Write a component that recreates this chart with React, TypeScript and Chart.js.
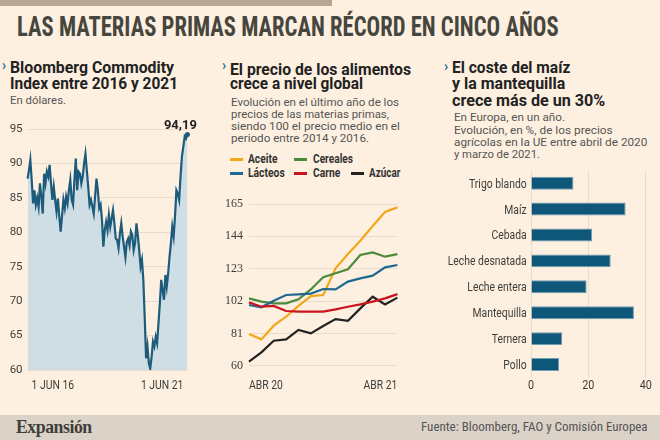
import React, { useEffect, useLayoutEffect, useRef, useState } from 'react';
import { Chart, registerables } from 'chart.js';

Chart.register(...registerables);

const SANS = "Roboto, 'Liberation Sans', sans-serif";
const COND = "'Roboto Condensed', 'Liberation Sans Narrow', 'DejaVu Sans Condensed', Roboto, sans-serif";
const SERIF = "'Liberation Serif', 'DejaVu Serif', serif";

// ---------- Panel 1: Bloomberg Commodity Index ----------
const bcomTickLabels = ['1 JUN 16', '1 JUN 21'];
const bcomLastLabel = '94,19';
const bcomValues = [
  87.8, 89, 90.5, 87.6, 84.2, 86.1, 84, 85, 83.7, 87.1, 85.2, 82.7, 88.5, 87.1, 88.8, 88.1,
  89.8, 87.1, 84.7, 86.6, 84.7, 83, 84.9, 82.3, 80.1, 82.3, 84.7, 83.5, 85.2, 84.2, 86.1, 87.6,
  84.7, 84, 87.6, 90.7, 86.1, 88.8, 88.5, 87.1, 88.1, 90, 91.4, 89, 86.6, 84, 84.7, 83.7,
  82.7, 85.2, 87.8, 86.1, 83.5, 84, 81.8, 77.9, 80.3, 81.5, 80.3, 82.5, 80.8, 82, 83.2, 81.3,
  79.1, 78.9, 77.7, 79.8, 81.3, 79.4, 77.9, 76.4, 78.6, 79.1, 78.1, 80.1, 79.6, 77.4, 78.4, 81.3,
  79.6, 77.4, 75, 76, 73.1, 67.7, 61.7, 63.4, 61, 60.2, 61.9, 64.1, 63.4, 64.8, 63.9, 66.8,
  69.7, 73.1, 71.6, 70.2, 73.8, 72.1, 74, 76.4, 78.4, 80.8, 79.4, 82.3, 86.1, 85.6, 84.7, 88.1,
  91, 92.4, 93.9, 93.6, 94.19,
];
const bcomCategories = bcomValues.map((_, i) => String(i));

// ---------- Panel 2: FAO food price indices ----------
const foodMonths = ['ABR 20', 'MAY 20', 'JUN 20', 'JUL 20', 'AGO 20', 'SEP 20', 'OCT 20', 'NOV 20', 'DIC 20', 'ENE 21', 'FEB 21', 'MAR 21', 'ABR 21'];
const aceite = [80.6, 77.1, 86, 91.8, 98.8, 105.2, 105.9, 123.2, 132.5, 141.2, 150.7, 159.8, 162.8];
const cereales = [103.7, 101.6, 100.5, 100.5, 103.1, 109.5, 117.4, 120, 122.6, 131.9, 133.6, 130.8, 132.5];
const lacteos = [99.4, 97.9, 102.2, 105.9, 106.3, 106.8, 109.8, 109.6, 114.6, 116.7, 118.5, 123.9, 125.4];
const carne = [101.1, 98.3, 98.8, 95.5, 95.1, 95.1, 95.1, 96.6, 98.3, 99.8, 101.6, 103.7, 106.5];
const azucar = [62.6, 68.7, 76.2, 77.1, 83.2, 81, 85.8, 90.3, 89.2, 97.2, 104.8, 99.8, 104.2];
const foodSeriesNames = ['Aceite', 'Cereales', 'Lácteos', 'Carne', 'Azúcar'];

// ---------- Panel 3: EU agricultural prices ----------
const barLabels = ['Trigo blando', 'Maíz', 'Cebada', 'Leche desnatada', 'Leche entera', 'Mantequilla', 'Ternera', 'Pollo'];
const barValues = [14.8, 33, 21.3, 27.8, 19.4, 35.9, 10.9, 9.8];

const C = {
  bg: '#fdf0e0',
  grid: '#e8ddcd',
  tick: '#3d3d3a',
  aceite: '#f3a71c',
  cereales: '#4c8a3c',
  lacteos: '#1f6892',
  carne: '#c8151f',
  azucar: '#222222',
  bar: '#0f5778',
  line1: '#1c5b7b',
  fill1: '#cfdee4',
};
const HIDDEN = 'rgba(0,0,0,0)';
const SX = 0.83;

function T({ x, y, size, text, w, weight = 400, color = '#333', family = SANS, ls = 0 }: any) {
  const ref = useRef<HTMLSpanElement>(null);
  const [tick, setTick] = useState(0);
  useEffect(() => {
    (document as any).fonts?.ready?.then(() => setTick((t) => t + 1));
  }, []);
  useLayoutEffect(() => {
    const el = ref.current;
    if (!el || !w) return;
    el.style.transform = 'none';
    const nat = el.getBoundingClientRect().width;
    if (nat > 0) el.style.transform = `scaleX(${w / nat})`;
  }, [text, w, tick]);
  return (
    <span
      ref={ref}
      style={{
        position: 'absolute',
        left: x,
        top: y - size * 0.845,
        fontSize: size,
        lineHeight: `${size}px`,
        whiteSpace: 'nowrap',
        transformOrigin: '0 0',
        fontWeight: weight,
        color,
        fontFamily: family,
        letterSpacing: ls,
      }}
    >
      {text}
    </span>
  );
}

function ChartBox({ left, top, width, height, make }: any) {
  const ref = useRef<HTMLCanvasElement>(null);
  useEffect(() => {
    const chart = new Chart(ref.current as HTMLCanvasElement, make());
    return () => chart.destroy();
  }, []);
  return (
    <canvas
      ref={ref}
      width={width}
      height={height}
      style={{ position: 'absolute', left, top, width, height }}
    />
  );
}

// Draws an axis's own tick labels horizontally condensed (no condensed font installed).
const condLabelsPlugin = {
  id: 'condLabels',
  afterDraw(chart: any, _args: any, opts: any) {
    const ctx = chart.ctx;
    for (const spec of opts.axes || []) {
      const scale = chart.scales[spec.id];
      const ticks = scale.ticks;
      ctx.save();
      ctx.font = `${spec.weight || 400} ${spec.size}px ${spec.family || SANS}`;
      ctx.fillStyle = spec.color || C.tick;
      ctx.textBaseline = 'alphabetic';
      ticks.forEach((t: any, i: number) => {
        const label = String(t.label ?? '');
        if (!label) return;
        const p = scale.getPixelForTick(i);
        let x: number;
        let y: number;
        let align: CanvasTextAlign = 'center';
        if (scale.axis === 'x') {
          y = scale.top + spec.offset + spec.size * 0.36;
          x = p;
          if (spec.inner) {
            if (i === 0) { align = 'left'; x += spec.inset || 0; }
            else if (i === ticks.length - 1) { align = 'right'; x -= spec.inset || 0; }
          }
        } else {
          x = scale.right - spec.offset;
          y = p + spec.size * 0.36;
          align = 'right';
        }
        ctx.save();
        ctx.translate(x, y);
        ctx.scale(spec.sx ?? SX, 1);
        ctx.textAlign = align;
        ctx.fillText(label, 0, 0);
        ctx.restore();
      });
      ctx.restore();
    }
  },
};

const lastLabelPlugin = {
  id: 'lastLabel',
  afterDatasetsDraw(chart: any) {
    const meta = chart.getDatasetMeta(0);
    const pt = meta.data[meta.data.length - 1];
    const ctx = chart.ctx;
    ctx.save();
    ctx.font = `bold 13px ${SANS}`;
    ctx.fillStyle = '#222';
    ctx.textAlign = 'center';
    ctx.textBaseline = 'alphabetic';
    ctx.fillText(bcomLastLabel, pt.x - 7, pt.y - 6);
    ctx.restore();
  },
};

function makeBcom(): any {
  const n = bcomValues.length;
  return {
    type: 'line',
    data: {
      labels: bcomCategories,
      datasets: [
        {
          data: bcomValues,
          borderColor: C.line1,
          borderWidth: 2.2,
          backgroundColor: C.fill1,
          fill: 'start',
          tension: 0,
          pointRadius: (ctx: any) => (ctx.dataIndex === n - 1 ? 2.5 : 0),
          pointBackgroundColor: C.line1,
          pointBorderWidth: 0,
        },
      ],
    },
    options: {
      responsive: false,
      animation: false,
      layout: { padding: { left: 0, right: 25, top: 19, bottom: 4 } },
      plugins: {
        legend: { display: false },
        tooltip: { enabled: false },
        condLabels: { axes: [{ id: 'x', size: 12.5, offset: 14.5, inner: true, inset: 4 }] },
      },
      scales: {
        x: {
          grid: { display: false },
          border: { display: false },
          ticks: {
            autoSkip: false,
            maxRotation: 0,
            color: HIDDEN,
            font: { family: SANS, size: 12 },
            callback: (_v: any, i: number) => (i === 0 ? bcomTickLabels[0] : bcomTickLabels[1]),
          },
          afterBuildTicks: (axis: any) => {
            const t = axis.ticks;
            axis.ticks = [t[0], t[t.length - 1]];
          },
          afterFit: (axis: any) => {
            axis.height = 26;
          },
        },
        y: {
          min: 60,
          max: 95,
          ticks: { stepSize: 5, padding: 5, color: C.tick, font: { family: SANS, size: 11.5 } },
          grid: { color: C.grid, drawTicks: false, lineWidth: 1 },
          border: { display: false },
          afterFit: (axis: any) => {
            axis.width = 26;
          },
        },
      },
    },
    plugins: [lastLabelPlugin, condLabelsPlugin],
  };
}

function makeFood(): any {
  const ds = (label: string, data: number[], color: string) => ({
    label,
    data,
    borderColor: color,
    backgroundColor: color,
    borderWidth: 2.2,
    pointRadius: 0,
    tension: 0,
    fill: false,
  });
  return {
    type: 'line',
    data: {
      labels: foodMonths,
      datasets: [
        ds(foodSeriesNames[3], carne, C.carne),
        ds(foodSeriesNames[2], lacteos, C.lacteos),
        ds(foodSeriesNames[1], cereales, C.cereales),
        ds(foodSeriesNames[0], aceite, C.aceite),
        ds(foodSeriesNames[4], azucar, C.azucar),
      ],
    },
    options: {
      responsive: false,
      animation: false,
      layout: { padding: { left: 0, right: 11, top: 14, bottom: 4 } },
      plugins: {
        legend: { display: false },
        tooltip: { enabled: false },
        condLabels: { axes: [{ id: 'x', size: 12.5, offset: 18.3, inner: true, inset: 0 }] },
      },
      scales: {
        x: {
          grid: { display: false },
          border: { display: false },
          ticks: {
            autoSkip: false,
            maxRotation: 0,
            color: HIDDEN,
            font: { family: SANS, size: 12 },
          },
          afterBuildTicks: (axis: any) => {
            const t = axis.ticks;
            axis.ticks = [t[0], t[t.length - 1]];
          },
          afterFit: (axis: any) => {
            axis.height = 30.3;
          },
        },
        y: {
          min: 60,
          max: 165,
          ticks: { stepSize: 21, padding: 6, color: C.tick, font: { family: SERIF, size: 12 } },
          grid: { color: C.grid, drawTicks: false },
          border: { display: false },
          afterFit: (axis: any) => {
            axis.width = 34;
          },
        },
      },
    },
    plugins: [condLabelsPlugin],
  };
}

function makeBars(): any {
  return {
    type: 'bar',
    data: {
      labels: barLabels,
      datasets: [
        {
          data: barValues,
          backgroundColor: C.bar,
          borderColor: '#6f9db3',
          borderWidth: 1,
          barPercentage: 0.5,
          categoryPercentage: 1,
        },
      ],
    },
    options: {
      indexAxis: 'y',
      responsive: false,
      animation: false,
      layout: { padding: { left: 0, right: 14.3, top: 4.5, bottom: 2.5 } },
      plugins: {
        legend: { display: false },
        tooltip: { enabled: false },
        condLabels: {
          axes: [
            { id: 'x', size: 13, offset: 7.2 },
            { id: 'y', size: 12.5, offset: 4.3 },
          ],
        },
      },
      scales: {
        x: {
          min: 0,
          max: 40,
          ticks: { stepSize: 20, color: HIDDEN, font: { family: SANS, size: 12 }, maxRotation: 0 },
          grid: { color: C.grid, drawTicks: false },
          border: { display: false },
          afterFit: (axis: any) => {
            axis.height = 20;
          },
        },
        y: {
          grid: { display: false },
          border: { display: false },
          ticks: { color: HIDDEN, font: { family: SANS, size: 12 }, autoSkip: false },
          afterFit: (axis: any) => {
            axis.width = 101;
          },
        },
      },
    },
    plugins: [condLabelsPlugin],
  };
}

function Swatch({ x, y, color }: any) {
  return <div style={{ position: 'absolute', left: x, top: y - 1, width: 13, height: 2.4, background: color }} />;
}

export default function App() {
  const chev = { size: 14, weight: 700, color: '#1f6e93' };
  return (
    <div
      style={{
        position: 'absolute',
        left: 0,
        top: 0,
        width: 660,
        height: 440,
        background: C.bg,
        overflow: 'hidden',
        fontFamily: SANS,
      }}
    >
      <div style={{ position: 'absolute', left: 0, top: 0, width: 332, height: 6, background: '#b7a694' }} />
      <T x={16.7} y={37.3} size={27} weight={700} color="#46463f" family={COND} w={541.6}
        text="LAS MATERIAS PRIMAS MARCAN RÉCORD EN CINCO AÑOS" />

      {/* Panel 1 */}
      <T x={2} y={70} {...chev} text="›" />
      <T x={10} y={74.3} size={16.5} weight={700} color="#222" w={164} text="Bloomberg Commodity" />
      <T x={10} y={89.5} size={16.5} weight={700} color="#222" w={168} text="Index entre 2016 y 2021" />
      <T x={10} y={105} size={11.5} color="#555" w={56} text="En dólares." />
      <ChartBox left={0} top={110} width={215} height={290} make={makeBcom} />

      {/* Panel 2 */}
      <T x={222} y={70} {...chev} text="›" />
      <T x={230} y={75.5} size={16.5} weight={700} color="#222" w={181} text="El precio de los alimentos" />
      <T x={230} y={90.3} size={16.5} weight={700} color="#222" w={133} text="crece a nivel global" />
      <T x={231} y={106.7} size={11.5} color="#555" w={168} text="Evolución en el último año de los" />
      <T x={231} y={119} size={11.5} color="#555" w={158} text="precios de las materias primas," />
      <T x={231} y={131} size={11.5} color="#555" w={169} text="siendo 100 el precio medio en el" />
      <T x={231} y={143} size={11.5} color="#555" w={138} text="periodo entre 2014 y 2016." />

      <Swatch x={230} y={159.3} color={C.aceite} />
      <T x={248.3} y={163.3} size={12} weight={700} color="#333" w={29.4} text={foodSeriesNames[0]} />
      <Swatch x={294} y={159.3} color={C.cereales} />
      <T x={312.7} y={163.3} size={12} weight={700} color="#333" w={40} text={foodSeriesNames[1]} />
      <Swatch x={230} y={173.3} color={C.lacteos} />
      <T x={248.3} y={177} size={12} weight={700} color="#333" w={36.7} text={foodSeriesNames[2]} />
      <Swatch x={294} y={173.3} color={C.carne} />
      <T x={312.7} y={177} size={12} weight={700} color="#333" w={27.3} text={foodSeriesNames[3]} />
      <Swatch x={350.5} y={173.3} color={C.azucar} />
      <T x={369.3} y={177} size={12} weight={700} color="#333" w={31.4} text={foodSeriesNames[4]} />
      <ChartBox left={215} top={190} width={205} height={210} make={makeFood} />

      {/* Panel 3 */}
      <T x={444} y={71} {...chev} text="›" />
      <T x={451.7} y={73.5} size={16.5} weight={700} color="#222" w={118.3} text="El coste del maíz" />
      <T x={451.7} y={89.8} size={16.5} weight={700} color="#222" w={113.3} text="y la mantequilla" />
      <T x={451.7} y={106.5} size={16.5} weight={700} color="#222" w={153.3} text="crece más de un 30%" />
      <T x={454} y={122} size={11.5} color="#555" w={111} text="En Europa, en un año." />
      <T x={454} y={134.3} size={11.5} color="#555" w={158.7} text="Evolución, en %, de los precios" />
      <T x={454} y={146.5} size={11.5} color="#555" w={193.3} text="agrícolas en la UE entre abril de 2020" />
      <T x={454} y={158.5} size={11.5} color="#555" w={86} text="y marzo de 2021." />
      <ChartBox left={430} top={160} width={230} height={240} make={makeBars} />

      {/* Footer */}
      <div style={{ position: 'absolute', left: 0, top: 415, width: 660, height: 25, background: '#dbd2c8' }} />
      <T x={16} y={433} size={19} weight={700} color="#3f3f3a" family={SERIF} w={75.7} ls={-0.5} text="Expansión" />
      <T x={420.7} y={432} size={12.5} color="#555" family={COND} w={226.6}
        text="Fuente: Bloomberg, FAO y Comisión Europea" />
    </div>
  );
}
